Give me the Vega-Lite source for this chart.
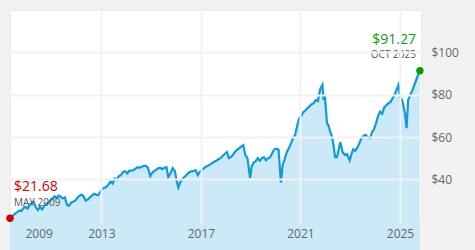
{
  "$schema": "https://vega.github.io/schema/vega-lite/v6.json",
  "width": 412,
  "height": 213,
  "autosize": {"type": "none"},
  "padding": {"left": 10, "top": 10, "right": 53, "bottom": 27},
  "background": "#f2f2f2",
  "config": {
    "font": "Open Sans",
    "view": {"fill": "white", "stroke": "#eeeeee", "strokeWidth": 2}
  },
  "datasets": {
    "prices": [
      {"date": "2009-05-01", "value": 21.68},
      {"date": "2009-05-20", "value": 22.4},
      {"date": "2009-06-15", "value": 23.0},
      {"date": "2009-07-15", "value": 23.8},
      {"date": "2009-08-15", "value": 24.5},
      {"date": "2009-09-15", "value": 25.3},
      {"date": "2009-10-15", "value": 25.0},
      {"date": "2009-11-15", "value": 26.5},
      {"date": "2009-12-15", "value": 27.0},
      {"date": "2010-01-15", "value": 26.2},
      {"date": "2010-02-15", "value": 28.0},
      {"date": "2010-03-15", "value": 28.8},
      {"date": "2010-04-15", "value": 29.3},
      {"date": "2010-05-15", "value": 26.8},
      {"date": "2010-06-15", "value": 25.5},
      {"date": "2010-07-15", "value": 27.0},
      {"date": "2010-08-15", "value": 25.8},
      {"date": "2010-09-15", "value": 27.5},
      {"date": "2010-10-15", "value": 28.5},
      {"date": "2010-11-15", "value": 29.0},
      {"date": "2010-12-15", "value": 30.0},
      {"date": "2011-01-15", "value": 31.0},
      {"date": "2011-02-15", "value": 32.0},
      {"date": "2011-03-15", "value": 31.2},
      {"date": "2011-04-15", "value": 32.3},
      {"date": "2011-05-15", "value": 31.8},
      {"date": "2011-06-15", "value": 31.0},
      {"date": "2011-07-15", "value": 31.5},
      {"date": "2011-08-15", "value": 28.0},
      {"date": "2011-09-15", "value": 27.5},
      {"date": "2011-10-15", "value": 29.0},
      {"date": "2011-11-15", "value": 29.5},
      {"date": "2011-12-15", "value": 30.0},
      {"date": "2012-01-15", "value": 31.3},
      {"date": "2012-02-15", "value": 32.2},
      {"date": "2012-03-15", "value": 32.8},
      {"date": "2012-04-15", "value": 32.0},
      {"date": "2012-05-15", "value": 30.0},
      {"date": "2012-06-15", "value": 30.5},
      {"date": "2012-07-15", "value": 31.5},
      {"date": "2012-08-15", "value": 32.3},
      {"date": "2012-09-15", "value": 33.2},
      {"date": "2012-10-15", "value": 32.8},
      {"date": "2012-11-15", "value": 32.5},
      {"date": "2012-12-15", "value": 34.0},
      {"date": "2013-01-15", "value": 35.5},
      {"date": "2013-02-15", "value": 36.0},
      {"date": "2013-03-15", "value": 36.5},
      {"date": "2013-04-15", "value": 37.5},
      {"date": "2013-05-15", "value": 39.0},
      {"date": "2013-06-15", "value": 38.0},
      {"date": "2013-07-15", "value": 40.5},
      {"date": "2013-08-15", "value": 40.0},
      {"date": "2013-09-15", "value": 41.5},
      {"date": "2013-10-15", "value": 42.0},
      {"date": "2013-11-15", "value": 43.5},
      {"date": "2013-12-15", "value": 43.8},
      {"date": "2014-01-15", "value": 42.8},
      {"date": "2014-02-15", "value": 44.2},
      {"date": "2014-03-15", "value": 44.0},
      {"date": "2014-04-15", "value": 44.4},
      {"date": "2014-05-15", "value": 45.0},
      {"date": "2014-06-15", "value": 45.8},
      {"date": "2014-07-15", "value": 45.5},
      {"date": "2014-08-15", "value": 46.0},
      {"date": "2014-09-15", "value": 46.3},
      {"date": "2014-10-15", "value": 46.5},
      {"date": "2014-11-15", "value": 45.5},
      {"date": "2014-12-20", "value": 41.5},
      {"date": "2015-01-15", "value": 43.0},
      {"date": "2015-02-15", "value": 44.0},
      {"date": "2015-03-15", "value": 44.5},
      {"date": "2015-04-15", "value": 45.3},
      {"date": "2015-05-15", "value": 45.5},
      {"date": "2015-06-15", "value": 44.8},
      {"date": "2015-07-15", "value": 45.5},
      {"date": "2015-08-15", "value": 45.8},
      {"date": "2015-09-10", "value": 41.0},
      {"date": "2015-10-15", "value": 43.0},
      {"date": "2015-11-15", "value": 45.3},
      {"date": "2015-12-15", "value": 44.0},
      {"date": "2016-01-15", "value": 38.7},
      {"date": "2016-02-05", "value": 36.2},
      {"date": "2016-03-01", "value": 38.5},
      {"date": "2016-04-15", "value": 40.6},
      {"date": "2016-05-15", "value": 41.5},
      {"date": "2016-06-15", "value": 42.5},
      {"date": "2016-07-15", "value": 43.4},
      {"date": "2016-08-15", "value": 43.8},
      {"date": "2016-09-15", "value": 44.0},
      {"date": "2016-10-15", "value": 44.4},
      {"date": "2016-11-15", "value": 42.0},
      {"date": "2016-12-15", "value": 43.5},
      {"date": "2017-01-15", "value": 44.5},
      {"date": "2017-02-15", "value": 45.3},
      {"date": "2017-03-15", "value": 46.0},
      {"date": "2017-04-15", "value": 46.5},
      {"date": "2017-05-15", "value": 47.0},
      {"date": "2017-06-15", "value": 47.7},
      {"date": "2017-07-15", "value": 48.3},
      {"date": "2017-08-15", "value": 48.8},
      {"date": "2017-09-15", "value": 49.5},
      {"date": "2017-10-15", "value": 50.0},
      {"date": "2017-11-15", "value": 51.0},
      {"date": "2017-12-15", "value": 52.0},
      {"date": "2018-01-20", "value": 52.9},
      {"date": "2018-02-15", "value": 50.0},
      {"date": "2018-03-15", "value": 50.5},
      {"date": "2018-04-15", "value": 51.5},
      {"date": "2018-05-15", "value": 53.0},
      {"date": "2018-06-15", "value": 54.0},
      {"date": "2018-07-15", "value": 54.7},
      {"date": "2018-08-15", "value": 55.5},
      {"date": "2018-09-15", "value": 56.2},
      {"date": "2018-10-15", "value": 51.5},
      {"date": "2018-11-15", "value": 50.0},
      {"date": "2018-12-24", "value": 40.6},
      {"date": "2019-01-15", "value": 46.0},
      {"date": "2019-02-15", "value": 48.0},
      {"date": "2019-03-15", "value": 48.5},
      {"date": "2019-04-15", "value": 50.0},
      {"date": "2019-05-15", "value": 48.8},
      {"date": "2019-06-15", "value": 50.0},
      {"date": "2019-07-15", "value": 50.5},
      {"date": "2019-08-15", "value": 49.0},
      {"date": "2019-09-15", "value": 50.0},
      {"date": "2019-10-15", "value": 50.5},
      {"date": "2019-11-15", "value": 52.5},
      {"date": "2019-12-15", "value": 54.2},
      {"date": "2020-01-15", "value": 54.5},
      {"date": "2020-02-15", "value": 54.0},
      {"date": "2020-03-20", "value": 38.5},
      {"date": "2020-04-15", "value": 46.8},
      {"date": "2020-05-15", "value": 49.5},
      {"date": "2020-06-15", "value": 53.0},
      {"date": "2020-07-15", "value": 54.7},
      {"date": "2020-08-15", "value": 57.0},
      {"date": "2020-09-15", "value": 59.5},
      {"date": "2020-10-15", "value": 61.0},
      {"date": "2020-11-15", "value": 65.6},
      {"date": "2020-12-15", "value": 69.0},
      {"date": "2021-01-15", "value": 70.0},
      {"date": "2021-02-15", "value": 71.8},
      {"date": "2021-03-15", "value": 72.5},
      {"date": "2021-04-15", "value": 73.7},
      {"date": "2021-05-15", "value": 74.5},
      {"date": "2021-06-15", "value": 75.5},
      {"date": "2021-07-15", "value": 76.0},
      {"date": "2021-08-15", "value": 77.5},
      {"date": "2021-09-15", "value": 77.0},
      {"date": "2021-10-15", "value": 82.4},
      {"date": "2021-11-20", "value": 84.6},
      {"date": "2021-12-05", "value": 77.5},
      {"date": "2021-12-25", "value": 80.0},
      {"date": "2022-01-25", "value": 66.6},
      {"date": "2022-02-15", "value": 65.6},
      {"date": "2022-03-15", "value": 62.4},
      {"date": "2022-04-10", "value": 60.0},
      {"date": "2022-05-01", "value": 56.2},
      {"date": "2022-05-25", "value": 50.5},
      {"date": "2022-06-20", "value": 50.5},
      {"date": "2022-07-15", "value": 54.0},
      {"date": "2022-08-10", "value": 57.6},
      {"date": "2022-09-10", "value": 53.0},
      {"date": "2022-10-15", "value": 51.5},
      {"date": "2022-11-15", "value": 52.0},
      {"date": "2022-12-25", "value": 49.0},
      {"date": "2023-01-20", "value": 52.0},
      {"date": "2023-02-15", "value": 54.2},
      {"date": "2023-03-15", "value": 53.5},
      {"date": "2023-04-15", "value": 55.0},
      {"date": "2023-05-15", "value": 57.0},
      {"date": "2023-06-15", "value": 59.5},
      {"date": "2023-07-15", "value": 60.5},
      {"date": "2023-08-15", "value": 61.0},
      {"date": "2023-09-15", "value": 60.0},
      {"date": "2023-10-20", "value": 59.5},
      {"date": "2023-11-20", "value": 62.5},
      {"date": "2023-12-15", "value": 63.5},
      {"date": "2024-01-15", "value": 66.5},
      {"date": "2024-02-15", "value": 70.0},
      {"date": "2024-03-15", "value": 72.0},
      {"date": "2024-04-15", "value": 71.0},
      {"date": "2024-05-15", "value": 74.0},
      {"date": "2024-06-15", "value": 75.0},
      {"date": "2024-07-15", "value": 76.0},
      {"date": "2024-08-15", "value": 76.5},
      {"date": "2024-09-15", "value": 78.4},
      {"date": "2024-10-15", "value": 80.0},
      {"date": "2024-11-20", "value": 83.0},
      {"date": "2024-12-10", "value": 84.6},
      {"date": "2025-01-05", "value": 78.9},
      {"date": "2025-02-01", "value": 77.5},
      {"date": "2025-03-15", "value": 71.3},
      {"date": "2025-04-08", "value": 64.2},
      {"date": "2025-05-01", "value": 77.5},
      {"date": "2025-06-01", "value": 80.0},
      {"date": "2025-07-01", "value": 82.0},
      {"date": "2025-08-10", "value": 85.5},
      {"date": "2025-09-10", "value": 88.3},
      {"date": "2025-10-20", "value": 91.27}
    ],
    "ends": [
      {"date": "2009-05-01", "value": 21.68, "kind": "start", "label": "MAY 2009"},
      {"date": "2025-10-20", "value": 91.27, "kind": "end", "label": "OCT 2025"}
    ]
  },
  "encoding": {
    "x": {
      "field": "date",
      "type": "temporal",
      "scale": {"domain": ["2009-05-01", "2025-11-20"]},
      "axis": {
        "title": null,
        "values": [
          {"year": 2009, "month": 5, "date": 1},
          {"year": 2013, "month": 1, "date": 1},
          {"year": 2017, "month": 1, "date": 1},
          {"year": 2021, "month": 1, "date": 1},
          {"year": 2025, "month": 1, "date": 1}
        ],
        "format": "%Y",
        "labelFlush": true,
        "labelFlushOffset": -15,
        "labelPadding": 5,
        "labelFontSize": 12,
        "labelColor": "#666666",
        "ticks": false,
        "domain": false,
        "grid": true,
        "gridColor": {"condition": {"test": "year(datum.value) === 2009", "value": "transparent"}, "value": "#f2f2f2"},
        "gridWidth": 2,
        "zindex": 1
      }
    },
    "y": {
      "field": "value",
      "type": "quantitative",
      "scale": {"domain": [19.4, 120], "nice": false, "zero": false},
      "axis": {
        "title": null,
        "orient": "right",
        "values": [40, 60, 80, 100],
        "labelExpr": "'$' + datum.value",
        "labelAlign": "left",
        "labelPadding": 9,
        "labelFontSize": 12,
        "labelColor": "#666666",
        "ticks": false,
        "domain": false,
        "grid": true,
        "gridColor": "#f2f2f2",
        "gridWidth": 2,
        "zindex": 1
      }
    }
  },
  "layer": [
    {
      "data": {"name": "prices"},
      "mark": {"type": "area", "color": "#cbe9f7"}
    },
    {
      "data": {"name": "prices"},
      "mark": {"type": "line", "color": "#0f9bdb", "strokeWidth": 2.2}
    },
    {
      "data": {"name": "ends"},
      "mark": {"type": "point", "filled": true, "opacity": 1, "size": 55},
      "encoding": {
        "color": {"field": "kind", "type": "nominal", "scale": {"domain": ["start", "end"], "range": ["#cc0000", "#119911"]}, "legend": null}
      }
    },
    {
      "data": {"name": "ends"},
      "transform": [{"filter": "datum.kind === 'start'"}],
      "mark": {"type": "text", "align": "left", "baseline": "middle", "dx": 4, "dy": -31, "fontSize": 14, "color": "#cc0000"},
      "encoding": {"text": {"field": "value", "type": "quantitative", "format": "$.2f"}}
    },
    {
      "data": {"name": "ends"},
      "transform": [{"filter": "datum.kind === 'start'"}],
      "mark": {"type": "text", "align": "left", "baseline": "middle", "dx": 4, "dy": -15, "fontSize": 10, "color": "#555555"},
      "encoding": {"text": {"field": "label", "type": "nominal"}}
    },
    {
      "data": {"name": "ends"},
      "transform": [{"filter": "datum.kind === 'end'"}],
      "mark": {"type": "text", "align": "right", "baseline": "middle", "dx": -4, "dy": -31, "fontSize": 14, "color": "#119911"},
      "encoding": {"text": {"field": "value", "type": "quantitative", "format": "$.2f"}}
    },
    {
      "data": {"name": "ends"},
      "transform": [{"filter": "datum.kind === 'end'"}],
      "mark": {"type": "text", "align": "right", "baseline": "middle", "dx": -4, "dy": -15.5, "fontSize": 10, "color": "#555555"},
      "encoding": {"text": {"field": "label", "type": "nominal"}}
    }
  ]
}
